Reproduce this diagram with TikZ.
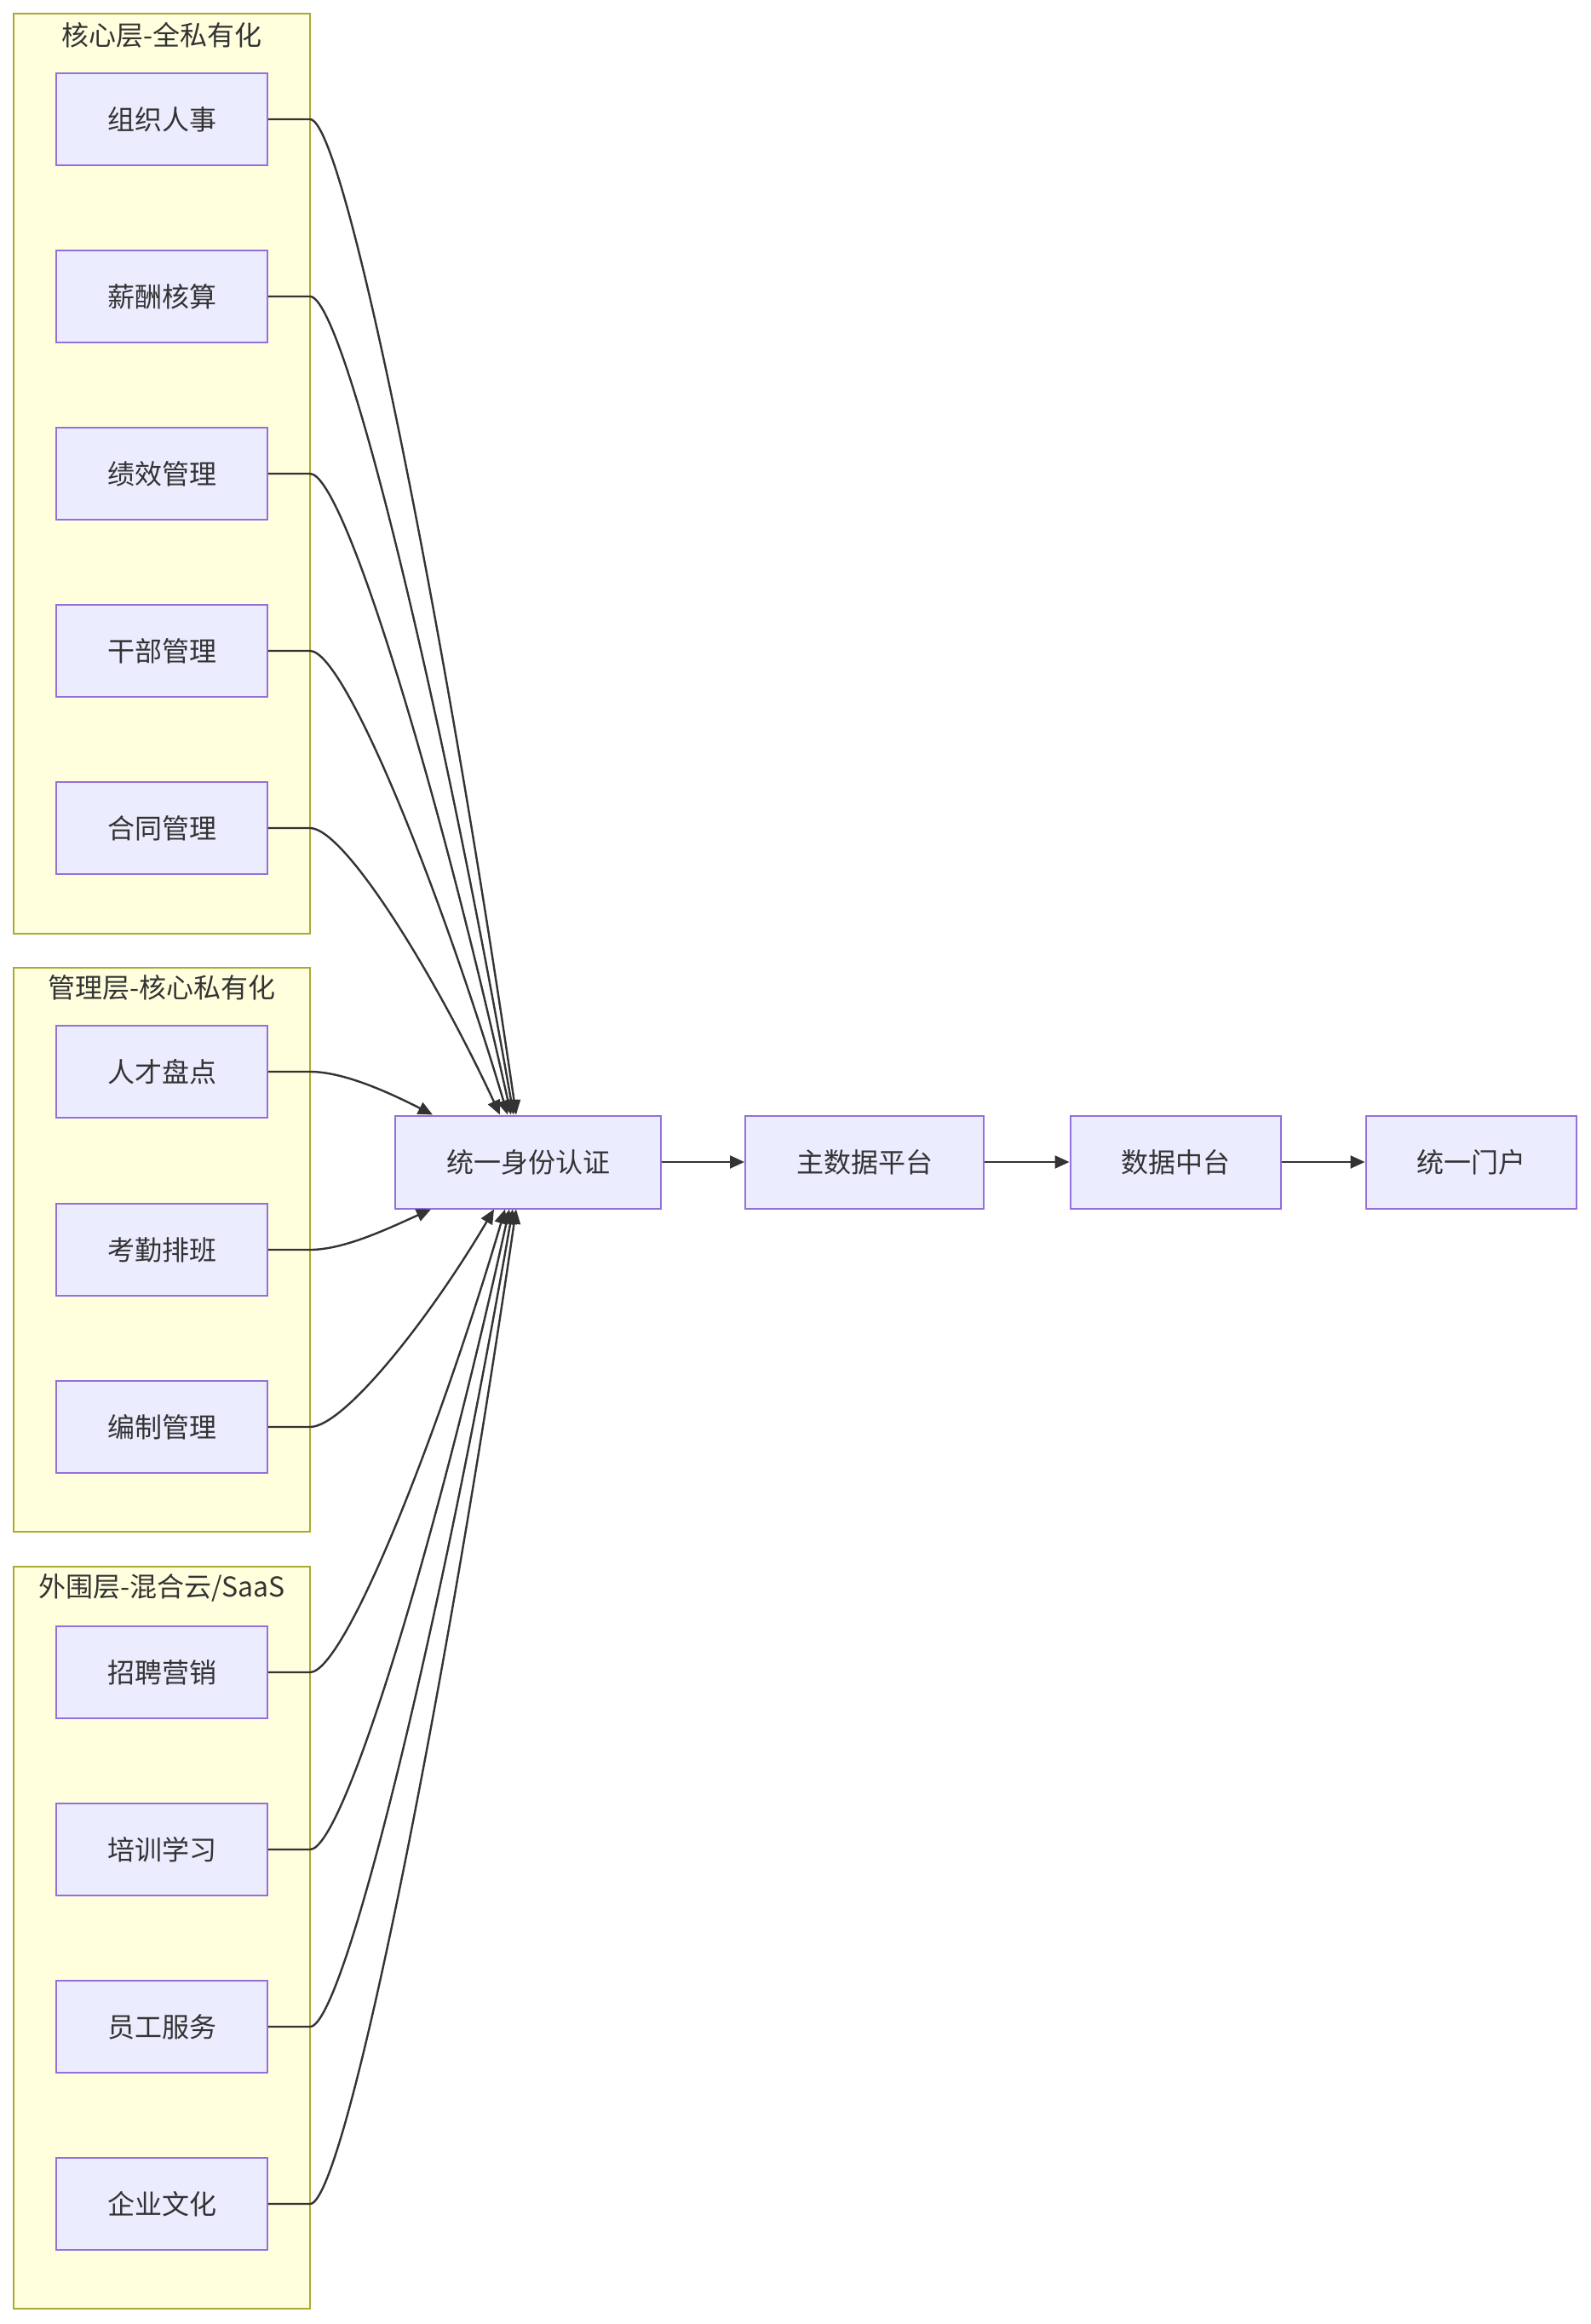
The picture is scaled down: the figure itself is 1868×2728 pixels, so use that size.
\documentclass[tikz,border=0pt]{standalone}
\usepackage{fontspec}
\setmainfont{Noto Sans CJK SC}
\usetikzlibrary{arrows.meta,calc}
\definecolor{nodefill}{HTML}{ECECFF}
\definecolor{nodeline}{HTML}{9370DB}
\definecolor{clfill}{HTML}{FFFFDE}
\definecolor{clline}{HTML}{AAAA33}
\definecolor{ink}{HTML}{333333}
\tikzset{
  box/.style={draw=nodeline, fill=nodefill, line width=2pt, minimum height=108pt, inner sep=0pt, text=ink, font=\fontsize{32pt}{38pt}\selectfont},
  lbox/.style={box, minimum width=248pt},
  cluster/.style={draw=clline, fill=clfill, line width=2pt},
  cltitle/.style={text=ink, font=\fontsize{32pt}{38pt}\selectfont, inner sep=0pt},
  edge/.style={draw=ink, line width=2.4pt, -{Triangle[length=17pt,width=15pt]}},
}
\begin{document}
\begin{tikzpicture}[x=1pt,y=-1pt]
\useasboundingbox (0,0) rectangle (1868,2728);
\fill[white] (0,0) rectangle (1868,2728);
% clusters
\draw[cluster] (16,16) rectangle (364,1096);
\draw[cluster] (16,1136) rectangle (364,1798);
\draw[cluster] (16,1839) rectangle (364,2710);
\node[cltitle] (t1) at (190,41) {核心层-全私有化};
\node[cltitle] (t2) at (190,1159) {管理层-核心私有化};
\node[cltitle] (t3) at (190,1864) {外围层-混合云/SaaS};
% left nodes
\node[lbox] (a1) at (190,140) {组织人事};
\node[lbox] (a2) at (190,348) {薪酬核算};
\node[lbox] (a3) at (190,556) {绩效管理};
\node[lbox] (a4) at (190,764) {干部管理};
\node[lbox] (a5) at (190,972) {合同管理};
\node[lbox] (b1) at (190,1258) {人才盘点};
\node[lbox] (b2) at (190,1467) {考勤排班};
\node[lbox] (b3) at (190,1675) {编制管理};
\node[lbox] (c1) at (190,1963) {招聘营销};
\node[lbox] (c2) at (190,2171) {培训学习};
\node[lbox] (c3) at (190,2379) {员工服务};
\node[lbox] (c4) at (190,2587) {企业文化};
% main chain
\node[box, minimum width=312pt, minimum height=109pt] (auth) at (620,1364) {统一身份认证};
\node[box, minimum width=280pt, minimum height=109pt] (mdm) at (1015,1364) {主数据平台};
\node[box, minimum width=247pt, minimum height=109pt] (dmp) at (1380,1364) {数据中台};
\node[box, minimum width=247pt, minimum height=109pt] (portal) at (1727,1364) {统一门户};
\draw[edge] (auth) -- (mdm);
\draw[edge] (mdm) -- (dmp);
\draw[edge] (dmp) -- (portal);
% end points on auth
\coordinate (ea1) at ($(auth.north)+(-14,0)$);
\coordinate (ea2) at ($(auth.north)+(-17,0)$);
\coordinate (ea3) at ($(auth.north)+(-20,0)$);
\coordinate (ea4) at ($(auth.north)+(-24,0)$);
\coordinate (ea5) at ($(auth.north)+(-33,0)$);
\coordinate (eb1) at ($(auth.north)+(-112,0)$);
\coordinate (eb2) at ($(auth.south)+(-114,0)$);
\coordinate (eb3) at ($(auth.south)+(-40,0)$);
\coordinate (ec1) at ($(auth.south)+(-27,0)$);
\coordinate (ec2) at ($(auth.south)+(-22,0)$);
\coordinate (ec3) at ($(auth.south)+(-18,0)$);
\coordinate (ec4) at ($(auth.south)+(-14,0)$);
% curved connectors
\draw[edge] (a1.east) -- (364,140) .. controls (404,140) and (521,725) .. (ea1);
\draw[edge] (a2.east) -- (364,348) .. controls (404,348) and (519,829) .. (ea2);
\draw[edge] (a3.east) -- (364,556) .. controls (404,556) and (517,933) .. (ea3);
\draw[edge] (a4.east) -- (364,764) .. controls (404,764) and (515,1037) .. (ea4);
\draw[edge] (a5.east) -- (364,972) .. controls (404,972) and (509,1141) .. (ea5);
\draw[edge] (b1.east) -- (364,1258) .. controls (404,1258) and (458,1283) .. (eb1);
\draw[edge] (b2.east) -- (364,1467) .. controls (404,1467) and (456,1442) .. (eb2);
\draw[edge] (b3.east) -- (364,1675) .. controls (404,1675) and (505,1547) .. (eb3);
\draw[edge] (c1.east) -- (364,1963) .. controls (404,1963) and (513,1690) .. (ec1);
\draw[edge] (c2.east) -- (364,2171) .. controls (404,2171) and (516,1795) .. (ec2);
\draw[edge] (c3.east) -- (364,2379) .. controls (404,2379) and (519,1898) .. (ec3);
\draw[edge] (c4.east) -- (364,2587) .. controls (404,2587) and (521,2002) .. (ec4);
\end{tikzpicture}
\end{document}
